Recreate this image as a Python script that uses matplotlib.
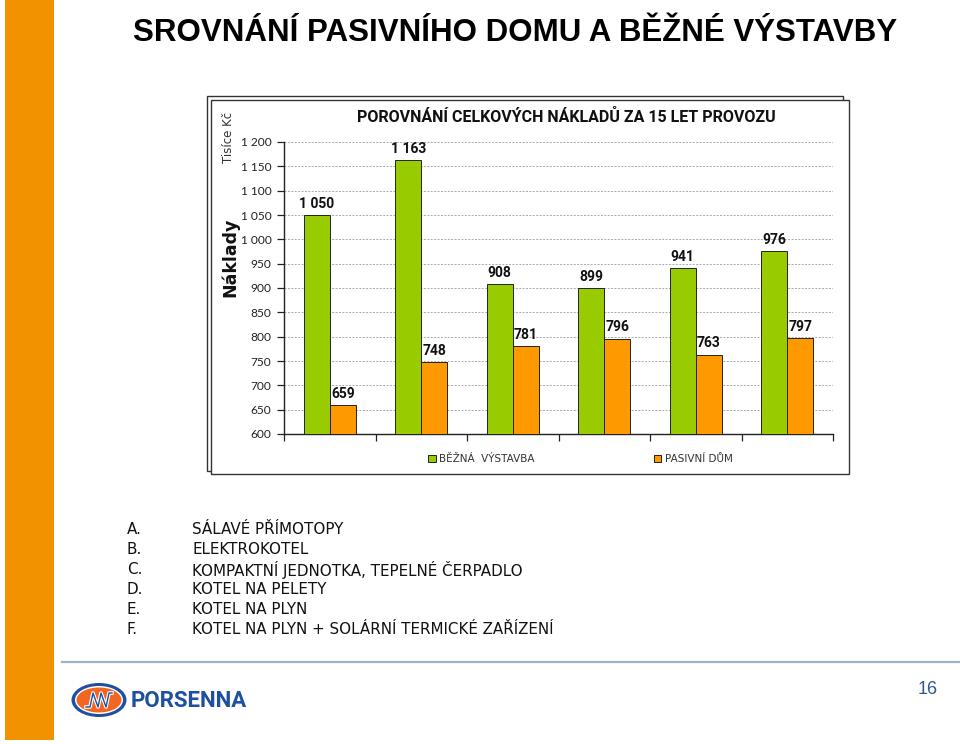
import matplotlib
matplotlib.use("Agg")
import matplotlib.pyplot as plt
from matplotlib.patches import Rectangle, Ellipse

# heating variants A-F
categories = ["A", "B", "C", "D", "E", "F"]
bezna_vystavba = [1050, 1163, 908, 899, 941, 976]
pasivni_dum = [659, 748, 781, 796, 763, 797]
series_names = ["BĚŽNÁ  VÝSTAVBA", "PASIVNÍ DŮM"]
y_ticks = [600, 650, 700, 750, 800, 850, 900, 950, 1000, 1050, 1100, 1150, 1200]

list_letters = ["A.", "B.", "C.", "D.", "E.", "F."]
list_items = ["SÁLAVÉ PŘÍMOTOPY", "ELEKTROKOTEL", "KOMPAKTNÍ JEDNOTKA, TEPELNÉ ČERPADLO",
              "KOTEL NA PELETY", "KOTEL NA PLYN", "KOTEL NA PLYN + SOLÁRNÍ TERMICKÉ ZAŘÍZENÍ"]

GREEN = "#99CC00"
ORANGE = "#FF9900"
NARROW = ["Roboto", "DejaVu Sans"]
W, H = 960, 744


def fmt(v):
    return f"{v:,}".replace(",", " ")


fig = plt.figure(figsize=(W / 100, H / 100), dpi=100)

# overlay axes in pixel coordinates for the slide decorations
deco = fig.add_axes([0, 0, 1, 1])
deco.set_xlim(0, W)
deco.set_ylim(H, 0)
deco.axis("off")
deco.set_zorder(0)

deco.add_patch(Rectangle((5, 0), 49, 740, facecolor="#F39200", edgecolor="none"))
deco.text(515, 33, "SROVNÁNÍ PASIVNÍHO DOMU A BĚŽNÉ VÝSTAVBY", ha="center", va="center",
          fontsize=22.5, fontweight="bold", family=["Liberation Sans", "DejaVu Sans"], color="black")

# stacked chart frame
deco.add_patch(Rectangle((207, 96), 636, 375, facecolor="white", edgecolor="#333333", lw=1.0))
deco.add_patch(Rectangle((211, 100), 638, 374, facecolor="white", edgecolor="#333333", lw=1.0))

for i, (letter, item) in enumerate(zip(list_letters, list_items)):
    y = 530 + i * 19.8
    deco.text(127, y, letter, ha="left", va="center", fontsize=10.9, color="#111111")
    deco.text(192, y, item, ha="left", va="center", fontsize=10.9, color="#111111")

deco.plot([62, 960], [662, 662], color="#9fb3c4", lw=1.6)
deco.text(928, 690, "16", ha="center", va="center", fontsize=13,
          family=["Liberation Sans", "DejaVu Sans"], color="#2e5b8a")

# logo
deco.add_patch(Ellipse((99, 700), 55, 34, facecolor="#1f4f9f", edgecolor="none"))
deco.add_patch(Ellipse((99, 700), 48, 28, facecolor="white", edgecolor="none"))
deco.add_patch(Ellipse((99, 700), 45, 25, facecolor="#F26522", edgecolor="none"))
zig_x = [86, 90, 93, 98, 101, 106, 109, 112]
zig_y = [707, 707, 693, 707, 693, 707, 693, 693]
deco.plot(zig_x, zig_y, color="white", lw=2.6, solid_joinstyle="round")
deco.plot(zig_x, zig_y, color="#1f4f9f", lw=1.0, solid_joinstyle="round")
deco.text(131, 701, "PORSENNA", ha="left", va="center", fontsize=16, fontweight="bold",
          family=NARROW, color="#1f4f9f")

# chart
ax = fig.add_axes([284 / W, (H - 434) / H, 549 / W, 292 / H])
ax.set_zorder(1)
ax.patch.set_alpha(0)

x = list(range(len(categories)))
bw = 0.285
b1 = ax.bar([i - bw / 2 for i in x], [v - 600 for v in bezna_vystavba], bw, bottom=600,
            color=GREEN, edgecolor="#222222", lw=0.7, label=series_names[0], zorder=3)
b2 = ax.bar([i + bw / 2 for i in x], [v - 600 for v in pasivni_dum], bw, bottom=600,
            color=ORANGE, edgecolor="#222222", lw=0.7, label=series_names[1], zorder=3)

for bars, vals in ((b1, bezna_vystavba), (b2, pasivni_dum)):
    for rect, v in zip(bars, vals):
        ax.text(rect.get_x() + rect.get_width() / 2, v + 9, fmt(v), ha="center", va="bottom",
                fontsize=10, fontweight="bold", family=NARROW, color="#111111")

ax.set_xlim(-0.5, len(categories) - 0.5)
ax.set_ylim(600, 1200)
ax.set_yticks(y_ticks)
ax.set_yticklabels([fmt(v) for v in y_ticks], fontsize=8.6, family=["Lato", "DejaVu Sans"],
                   color="#222222")
ax.set_xticks([i - 0.5 for i in range(len(categories) + 1)])
ax.set_xticklabels([])
ax.tick_params(axis="both", direction="out", length=5, width=0.9, color="#222222")
ax.tick_params(axis="y", pad=4)

for v in y_ticks[1:]:
    ax.axhline(v, color="#a8a8a8", lw=0.7, ls=(0, (2, 1.5)), zorder=1)

for s in ("top", "right"):
    ax.spines[s].set_visible(False)
for s in ("left", "bottom"):
    ax.spines[s].set_color("#222222")
    ax.spines[s].set_linewidth(1.0)

ax.text(0.515, 1.085, "POROVNÁNÍ CELKOVÝCH NÁKLADŮ ZA 15 LET PROVOZU", transform=ax.transAxes,
        ha="center", va="center", fontsize=11.5, fontweight="bold", family=NARROW, color="#111111")

fig.text(230 / W, 1 - 257 / H, "Náklady", rotation=90, ha="center", va="center",
         fontsize=12.5, fontweight="bold", color="#111111")
fig.text(229 / W, 1 - 137 / H, "Tisíce Kč", rotation=90, ha="center", va="center",
         fontsize=8.5, color="#333333")

ax.legend(loc="center", bbox_to_anchor=(0.54, -0.086), ncol=2, frameon=False,
          fontsize=7.5, handlelength=0.7, handleheight=0.7, handletextpad=0.3,
          columnspacing=11.5, labelcolor="#333333")

fig.savefig("out.png", dpi=100)
